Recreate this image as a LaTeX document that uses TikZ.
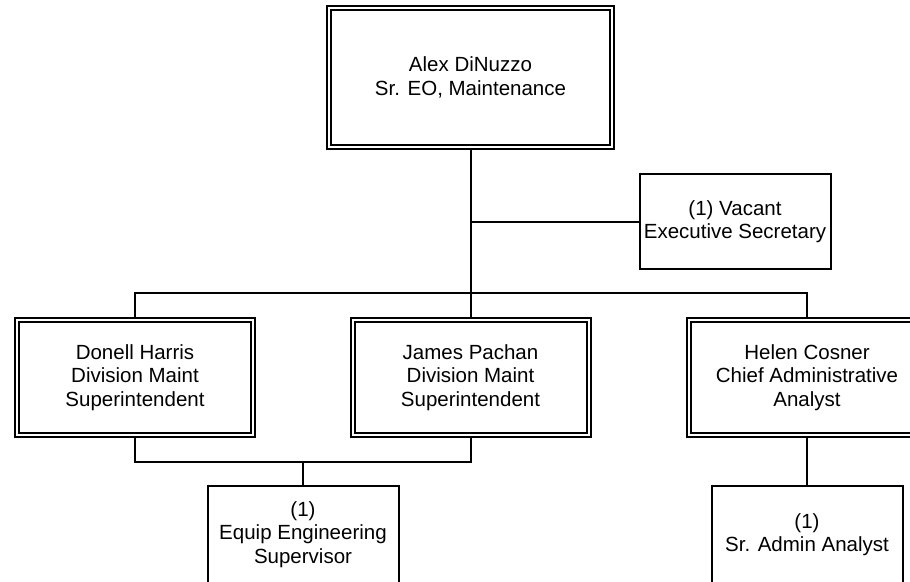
\documentclass[tikz,border=0pt]{standalone}
\usepackage{fontspec}
\setmainfont{Liberation Sans}
\begin{document}
\begin{tikzpicture}[x=1pt,y=-1pt,
  line width=2pt,
  box/.style={draw,align=center,inner sep=0pt,font=\fontsize{20.5}{23.5}\selectfont},
  headbox/.style={box,double,double distance=2pt,minimum width=236pt,minimum height=115pt},
  staffbox/.style={box,minimum width=191pt,minimum height=97pt}]
  \useasboundingbox (0,0) rectangle (910,581);
  \node[headbox,minimum width=283pt,minimum height=139pt] (dinuzzo) at (470.5,77.5) {Alex DiNuzzo\\Sr. EO, Maintenance};
  \node[staffbox,minimum height=95pt] (secretary) at (735,221.5) {(1) Vacant\\Executive Secretary};
  \node[headbox] (harris) at (135,377.5) {Donell Harris\\Division Maint\\Superintendent};
  \node[headbox] (pachan) at (470.5,377.5) {James Pachan\\Division Maint\\Superintendent};
  \node[headbox] (cosner) at (807,377.5) {Helen Cosner\\Chief Administrative\\Analyst};
  \node[staffbox] (equip) at (303,534.5) {(1)\\Equip Engineering\\Supervisor};
  \node[staffbox] (analyst) at (807,534.5) {(1)\\Sr. Admin Analyst};
  \coordinate (bus) at (470.5,293);
  \coordinate (join) at (303,462);
  \draw (dinuzzo.south) -- (pachan.north);
  \draw (dinuzzo.south |- secretary.west) -- (secretary.west);
  \draw (harris.north) |- (bus) -| (cosner.north);
  \draw (harris.south) |- (join) -| (pachan.south);
  \draw (join) -- (equip.north);
  \draw (cosner.south) -- (analyst.north);
\end{tikzpicture}
\end{document}
